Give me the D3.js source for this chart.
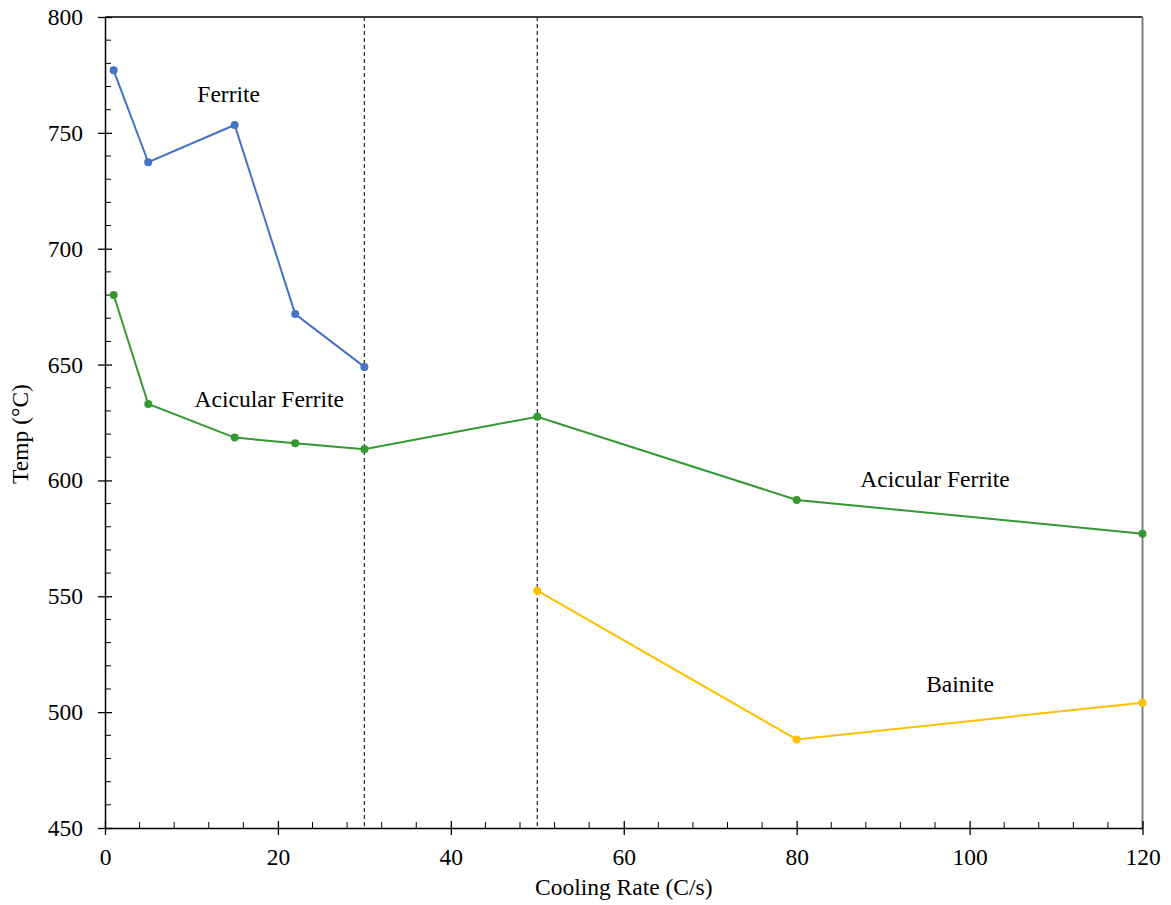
<!DOCTYPE html>
<html>
<head>
<meta charset="utf-8">
<script src="https://cdn.jsdelivr.net/npm/d3@7/dist/d3.min.js"></script>
<style>
  html, body { margin: 0; padding: 0; background: #fff; }
  svg { display: block; }
  svg text { font-family: "Liberation Serif", "Tinos", "Times New Roman", "DejaVu Serif", serif !important; fill: #000; }
</style>
</head>
<body>
<svg id="chart" width="1171" height="905"></svg>
<script>
// ---- data ----
const ferriteX = [1, 5, 15, 22, 30];
const ferriteY = [777, 737.3, 753.4, 671.8, 649];
const acicularX = [1, 5, 15, 22, 30, 50, 80, 120];
const acicularY = [680, 633, 618.5, 616, 613.5, 627.5, 591.6, 577];
const bainiteX = [50, 80, 120];
const bainiteY = [552.4, 488.2, 504.1];
const dividerX = [30, 50];
const xTicks = [0, 20, 40, 60, 80, 100, 120];
const yTicks = [450, 500, 550, 600, 650, 700, 750, 800];
const labels = [
  { text: "Ferrite", x: 14.3, y: 763.3 },
  { text: "Acicular Ferrite", x: 19, y: 631.7 },
  { text: "Acicular Ferrite", x: 96, y: 597.2 },
  { text: "Bainite", x: 98.9, y: 508.7 }
];
const series = [
  { name: "Ferrite", xs: ferriteX, ys: ferriteY, color: "#4472C4" },
  { name: "Acicular Ferrite", xs: acicularX, ys: acicularY, color: "#339933" },
  { name: "Bainite", xs: bainiteX, ys: bainiteY, color: "#FFC000" }
];

// ---- layout ----
const FONT = '"Liberation Serif", "Tinos", "Times New Roman", "DejaVu Serif", serif';
const FS = 23.5;
const svg = d3.select("#chart");
const L = 105, R = 1142.5, T = 17, B = 828;
const x = d3.scaleLinear().domain([0, 120]).range([L, R]);
const y = d3.scaleLinear().domain([450, 800]).range([B, T]);

// borders
svg.append("line").attr("x1", L).attr("x2", R).attr("y1", T).attr("y2", T)
  .attr("stroke", "#000").attr("stroke-width", 1.5);
svg.append("line").attr("x1", R).attr("x2", R).attr("y1", T).attr("y2", B)
  .attr("stroke", "#808080").attr("stroke-width", 2);

// divider dashed lines
svg.selectAll(".div").data(dividerX).enter().append("line")
  .attr("x1", d => x(d)).attr("x2", d => x(d)).attr("y1", T).attr("y2", B)
  .attr("stroke", "#333").attr("stroke-width", 1.3).attr("stroke-dasharray", "4,3");

// minor ticks
const xMinor = d3.range(0, 121, 4).filter(v => v % 20 !== 0);
svg.selectAll(".xm").data(xMinor).enter().append("line")
  .attr("x1", d => x(d)).attr("x2", d => x(d)).attr("y1", B).attr("y2", B - 6)
  .attr("stroke", "#000").attr("stroke-width", 1);
const yMinor = d3.range(450, 801, 10).filter(v => v % 50 !== 0);
svg.selectAll(".ym").data(yMinor).enter().append("line")
  .attr("x1", L).attr("x2", L + 6).attr("y1", d => y(d)).attr("y2", d => y(d))
  .attr("stroke", "#000").attr("stroke-width", 1);

// axes
const xAxis = svg.append("g").attr("transform", `translate(0,${B})`)
  .call(d3.axisBottom(x).tickValues(xTicks).tickSize(7).tickPadding(13).tickSizeOuter(0));
xAxis.attr("font-family", FONT).attr("font-size", FS);
xAxis.select(".domain").attr("stroke", "#000").attr("stroke-width", 1.5);
xAxis.selectAll(".tick line").attr("y1", -7).attr("stroke-width", 1.3);
xAxis.selectAll("text").attr("fill", "#000");

const yAxis = svg.append("g").attr("transform", `translate(${L},0)`)
  .call(d3.axisLeft(y).tickValues(yTicks).tickSize(7).tickPadding(15).tickSizeOuter(0));
yAxis.attr("font-family", FONT).attr("font-size", FS);
yAxis.select(".domain").attr("stroke", "#000").attr("stroke-width", 1.5);
yAxis.selectAll(".tick line").attr("x1", 7).attr("x2", -7).attr("stroke-width", 1.3);
yAxis.selectAll("text").attr("fill", "#000");

// series
const line = d3.line().x(d => x(d[0])).y(d => y(d[1]));
series.forEach(s => {
  const pts = s.xs.map((v, i) => [v, s.ys[i]]);
  svg.append("path").datum(pts).attr("d", line)
    .attr("fill", "none").attr("stroke", s.color).attr("stroke-width", 2);
  svg.selectAll(null).data(pts).enter().append("circle")
    .attr("cx", d => x(d[0])).attr("cy", d => y(d[1])).attr("r", 4)
    .attr("fill", s.color);
});

// annotations
svg.selectAll(".lbl").data(labels).enter().append("text")
  .attr("x", d => x(d.x)).attr("y", d => y(d.y))
  .attr("text-anchor", "middle").attr("font-family", FONT).attr("font-size", FS)
  .text(d => d.text);

// axis titles
svg.append("text").attr("x", (L + R) / 2).attr("y", 895)
  .attr("text-anchor", "middle").attr("font-family", FONT).attr("font-size", FS)
  .text("Cooling Rate (C/s)");
svg.append("text").attr("transform", `translate(28,434) rotate(-90)`)
  .attr("text-anchor", "middle").attr("font-family", FONT).attr("font-size", FS)
  .text("Temp (°C)");
</script>
</body>
</html>
